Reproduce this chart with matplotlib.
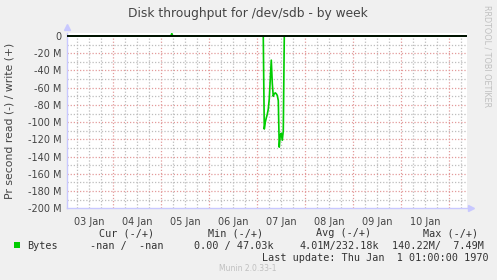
import matplotlib
matplotlib.use('Agg')
import matplotlib.pyplot as plt
from matplotlib.patches import Rectangle

# data (days since 03 Jan 00:00, values in bytes/s)
day_labels = ['03 Jan', '04 Jan', '05 Jan', '06 Jan', '07 Jan', '08 Jan', '09 Jan', '10 Jan']
read_t = [0.03, 4.125, 4.146, 4.167, 4.188, 4.208, 4.229, 4.250, 4.271, 4.292, 4.313,
          4.333, 4.354, 4.375, 4.396, 4.417, 4.438, 4.458, 4.479, 4.500, 4.521,
          4.542, 4.563, 8.36]
read_m = [0, 0, -108, -100, -95, -91, -85, -73, -50, -28, -55,
          -70, -67, -66, -67, -69, -75, -129, -115, -113, -121,
          -110, 0, 0]
write_t = [0.03, 2.20, 2.22, 2.24, 8.36]
write_m = [0, 0, 3, 0, 0]

W, H = 497, 280

def fx(px):
    return px / W

def fy(py):
    return 1 - py / H

fig = plt.figure(figsize=(4.97, 2.80), dpi=100)
fig.patch.set_facecolor('#f0f0f0')
ax = fig.add_axes([fx(66.7), fy(208.3), fx(466.7) - fx(66.7), fy(33) - fy(208.3)])
ax.set_facecolor('white')

ax.set_xlim(0.03, 8.363)
ax.set_ylim(-200, 3.5)

# grid, dotted like rrdtool
minor = '#bdbdbd'
major = '#e39a9a'
dots = (0, (1, 1.5))
for i in range(1, 34):
    x = i * 0.25
    if x > 8.36:
        break
    ax.axvline(x, color=major if i % 4 == 0 else minor, lw=0.9, ls=dots, zorder=1)
for v in range(-190, 0, 10):
    ax.axhline(v, color=major if v % 20 == 0 else minor, lw=0.9, ls=dots, zorder=1)

ax.plot(read_t, read_m, color='#00cc00', lw=1.2, zorder=3)
ax.plot(write_t, write_m, color='#00cc00', lw=1.2, zorder=3)
ax.axhline(0, color='black', lw=1.3, zorder=4)

for s in ['top', 'right']:
    ax.spines[s].set_visible(False)
for s in ['left', 'bottom']:
    ax.spines[s].set_color('#c8c8ff')
    ax.spines[s].set_linewidth(1)
ax.plot([0], [1.035], marker='^', color='#c8c8ff', ms=5, transform=ax.transAxes, clip_on=False)
ax.plot([1.01], [0], marker='>', color='#c8c8ff', ms=5, transform=ax.transAxes, clip_on=False)

yt = list(range(-200, 1, 20))
ax.set_yticks(yt)
ax.set_yticklabels(['0' if v == 0 else '%d M' % v for v in yt])
ax.set_xticks([i + 0.5 for i in range(len(day_labels))])
ax.set_xticklabels(day_labels)
ax.tick_params(axis='both', length=0, labelsize=7, labelcolor='#444444', pad=4)
ax.tick_params(axis='x', pad=6)

fig.text(fx(248), fy(13), 'Disk throughput for /dev/sdb - by week', ha='center', va='center',
         fontsize=8.8, color='#444444')
fig.text(fx(10), fy(121), 'Pr second read (-) / write (+)', rotation=90, ha='center', va='center',
         fontsize=7.8, color='#444444')
fig.text(fx(487), fy(5), 'RRDTOOL / TOBI OETIKER', rotation=270, ha='center', va='top',
         fontsize=5.8, color='#c0c0c0')

mono = dict(family='DejaVu Sans Mono', fontsize=7.3, color='#333333', va='center', ha='left')
fig.text(fx(98.6), fy(233), 'Cur (-/+)', **mono)
fig.text(fx(207.7), fy(233), 'Min (-/+)', **mono)
fig.text(fx(316), fy(233), 'Avg (-/+)', **mono)
fig.text(fx(423.3), fy(233), 'Max (-/+)', **mono)
fig.text(fx(26.7), fy(246), 'Bytes', **mono)
fig.text(fx(90), fy(246), '-nan /  -nan', **mono)
fig.text(fx(194.3), fy(246), '0.00 / 47.03k', **mono)
fig.text(fx(299.3), fy(246), '4.01M/232.18k', **mono)
fig.text(fx(392.3), fy(246), '140.22M/  7.49M', **mono)
fig.text(fx(261.7), fy(257.7), 'Last update: Thu Jan  1 01:00:00 1970', **mono)
fig.text(fx(248), fy(268.5), 'Munin 2.0.33-1', ha='center', va='center', fontsize=5.5, color='#c0c0c0')

fig.patches.append(Rectangle((fx(14), fy(248)), fx(6), 6 / H, transform=fig.transFigure,
                             facecolor='#00cc00', edgecolor='none'))

fig.savefig('out.png', dpi=100, facecolor=fig.get_facecolor())
